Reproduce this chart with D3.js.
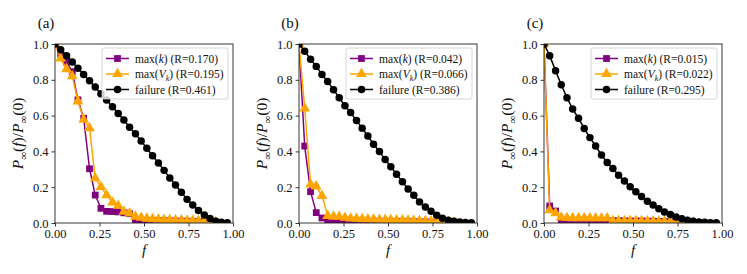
<!DOCTYPE html>
<html>
<head>
<meta charset="utf-8">
<script src="https://cdn.jsdelivr.net/npm/d3@7"></script>
<style>
    body { margin: 0; background: white; }
    svg { display: block; }
    text { font-family: 'Liberation Serif', 'Times New Roman', serif; fill: #111; }
</style>
</head>
<body>
<svg width="747" height="274"></svg>
<script>
// fraction of removed nodes
const fValues = [0.000, 0.032, 0.065, 0.097, 0.129, 0.161, 0.194, 0.226, 0.258, 0.290,
    0.323, 0.355, 0.387, 0.419, 0.452, 0.484, 0.516, 0.548, 0.581, 0.613,
    0.645, 0.677, 0.710, 0.742, 0.774, 0.806, 0.839, 0.871, 0.903, 0.935, 0.968];

const panelLabels = ['(a)', '(b)', '(c)'];
const xTicks = [0, 0.25, 0.5, 0.75, 1];
const yTicks = [0, 0.2, 0.4, 0.6, 0.8, 1];

// R values shown in legend: [max(k), max(V_k), failure]
const rValues = [
    ['0.170', '0.195', '0.461'],
    ['0.042', '0.066', '0.386'],
    ['0.015', '0.022', '0.295']
];

const maxKA = [1.000, 0.945, 0.898, 0.845, 0.688, 0.585, 0.303, 0.156, 0.082, 0.065,
    0.064, 0.062, 0.057, 0.052, 0.016, 0.015, 0.014, 0.013, 0.013, 0.012,
    0.012, 0.011, 0.010, 0.010, 0.009, 0.008, 0.007, 0.006, 0.004];
const maxVA = [1.000, 0.920, 0.860, 0.820, 0.680, 0.578, 0.530, 0.250, 0.202, 0.155,
    0.115, 0.097, 0.063, 0.054, 0.036, 0.030, 0.025, 0.022, 0.020, 0.018,
    0.017, 0.016, 0.015, 0.014, 0.013, 0.012, 0.011, 0.009, 0.006];
const failA = [1.000, 0.968, 0.935, 0.900, 0.865, 0.830, 0.795, 0.760, 0.722, 0.687,
    0.650, 0.612, 0.575, 0.535, 0.498, 0.458, 0.418, 0.376, 0.335, 0.294,
    0.252, 0.212, 0.172, 0.132, 0.100, 0.070, 0.045, 0.025, 0.010, 0.004, 0.001];

const maxKB = [1.000, 0.430, 0.175, 0.058, 0.028, 0.016, 0.013, 0.012, 0.012, 0.011,
    0.011, 0.010, 0.010, 0.010, 0.009, 0.009, 0.009, 0.008, 0.008, 0.007,
    0.007, 0.006, 0.006, 0.005, 0.004, 0.004, 0.003, 0.002];
const maxVB = [1.000, 0.640, 0.215, 0.205, 0.152, 0.040, 0.036, 0.035, 0.030, 0.026,
    0.024, 0.022, 0.021, 0.020, 0.019, 0.018, 0.017, 0.016, 0.015, 0.014,
    0.013, 0.012, 0.011, 0.010, 0.009, 0.007, 0.005, 0.003];
const failB = [1.000, 0.960, 0.915, 0.875, 0.830, 0.790, 0.745, 0.700, 0.655, 0.617,
    0.572, 0.530, 0.486, 0.440, 0.400, 0.355, 0.314, 0.273, 0.230, 0.190,
    0.155, 0.118, 0.090, 0.065, 0.043, 0.026, 0.016, 0.010, 0.006, 0.003, 0.001];

const maxKC = [1.000, 0.095, 0.067, 0.015, 0.015, 0.014, 0.014, 0.014, 0.014, 0.013,
    0.013, 0.013, 0.012, 0.012, 0.012, 0.011, 0.011, 0.011, 0.010, 0.010,
    0.009, 0.008, 0.007, 0.006, 0.005, 0.004, 0.003];
const maxVC = [1.000, 0.072, 0.055, 0.031, 0.028, 0.027, 0.027, 0.027, 0.027, 0.027,
    0.027, 0.027, 0.012, 0.012, 0.012, 0.011, 0.011, 0.011, 0.010, 0.010,
    0.009, 0.008, 0.007, 0.006, 0.005, 0.004, 0.003];
const failC = [1.000, 0.935, 0.850, 0.772, 0.700, 0.637, 0.585, 0.528, 0.477, 0.430,
    0.380, 0.338, 0.305, 0.267, 0.234, 0.202, 0.174, 0.148, 0.121, 0.100,
    0.080, 0.062, 0.047, 0.034, 0.024, 0.016, 0.010, 0.006, 0.004, 0.002, 0.001];

const panelSeries = [
    [maxKA, maxVA, failA],
    [maxKB, maxVB, failB],
    [maxKC, maxVC, failC]
];

const seriesStyle = [
    { color: 'purple', marker: d3.symbolSquare, size: 46 },
    { color: 'orange', marker: d3.symbolTriangle, size: 50 },
    { color: 'black', marker: d3.symbolCircle, size: 44 }
];

const panelLeft = [55, 299, 544];
const plotTop = 44;
const plotWidth = 178;
const plotHeight = 179;

const svg = d3.select('svg');

const fmtX = d3.format('.2f');
const fmtY = d3.format('.1f');

panelSeries.forEach((series, p) => {
    const left = panelLeft[p];

    const x = d3.scaleLinear().domain([0, 1]).range([0, plotWidth]);
    const y = d3.scaleLinear().domain([0, 1]).range([plotHeight, 0]);

    const g = svg.append('g')
        .attr('transform', `translate(${left},${plotTop})`);

    g.append('clipPath')
        .attr('id', `clip-${p}`)
        .append('rect')
        .attr('width', plotWidth)
        .attr('height', plotHeight);

    const plot = g.append('g')
        .attr('clip-path', `url(#clip-${p})`);

    const line = d3.line()
        .x((v, i) => x(fValues[i]))
        .y(v => y(v));

    series.forEach((values, s) => {
        const style = seriesStyle[s];
        plot.append('path')
            .datum(values)
            .attr('d', line)
            .style('fill', 'none')
            .style('stroke', style.color)
            .style('stroke-width', 1.5)
            .style('stroke-linejoin', 'round');

        plot.append('g')
            .selectAll('path')
            .data(values)
            .enter()
            .append('path')
            .attr('transform', (v, i) => `translate(${x(fValues[i])},${y(v)})`)
            .attr('d', d3.symbol().type(style.marker).size(style.size))
            .style('fill', style.color);
    });

    // axes
    const xAxis = g.append('g')
        .attr('transform', `translate(0,${plotHeight})`)
        .call(d3.axisBottom(x).tickValues(xTicks).tickFormat(fmtX).tickSize(3.5).tickPadding(3));
    const yAxis = g.append('g')
        .call(d3.axisLeft(y).tickValues(yTicks).tickFormat(fmtY).tickSize(3.5).tickPadding(3));

    [xAxis, yAxis].forEach(axis => {
        axis.select('.domain').remove();
        axis.selectAll('line').style('stroke', '#222').style('stroke-width', 0.9);
        axis.selectAll('text')
            .style('font-family', "'Liberation Serif', serif")
            .style('font-size', '12.5px')
            .style('fill', '#111');
    });

    g.append('rect')
        .attr('width', plotWidth)
        .attr('height', plotHeight)
        .style('fill', 'none')
        .style('stroke', '#222')
        .style('stroke-width', 0.9);

    // axis labels
    g.append('text')
        .attr('x', plotWidth / 2)
        .attr('y', 211)
        .attr('text-anchor', 'middle')
        .style('font-size', '15px')
        .style('font-style', 'italic')
        .text('f');

    const ylab = g.append('text')
        .attr('transform', `translate(-32,${plotHeight / 2}) rotate(-90)`)
        .attr('text-anchor', 'middle')
        .style('font-size', '15.5px');
    ylab.append('tspan').style('font-style', 'italic').text('P');
    ylab.append('tspan').attr('dy', 3.5).style('font-size', '11px').text('∞');
    ylab.append('tspan').attr('dy', -3.5).text('(');
    ylab.append('tspan').style('font-style', 'italic').text('f');
    ylab.append('tspan').text(')/');
    ylab.append('tspan').style('font-style', 'italic').text('P');
    ylab.append('tspan').attr('dy', 3.5).style('font-size', '11px').text('∞');
    ylab.append('tspan').attr('dy', -3.5).text('(0)');

    // panel label
    g.append('text')
        .attr('x', -9)
        .attr('y', -16)
        .attr('text-anchor', 'middle')
        .style('font-size', '15px')
        .text(panelLabels[p]);

    // legend
    const legend = g.append('g')
        .attr('transform', `translate(${plotWidth - 131},4)`);

    legend.append('rect')
        .attr('width', 126)
        .attr('height', 51)
        .attr('rx', 2)
        .style('fill', 'white')
        .style('fill-opacity', 0.8)
        .style('stroke', '#ccc')
        .style('stroke-width', 0.8);

    seriesStyle.forEach((style, s) => {
        const row = legend.append('g')
            .attr('transform', `translate(0,${10.5 + s * 15.5})`);
        row.append('line')
            .attr('x1', 4)
            .attr('x2', 27)
            .style('stroke', style.color)
            .style('stroke-width', 1.5);
        row.append('path')
            .attr('transform', 'translate(15.5,0)')
            .attr('d', d3.symbol().type(style.marker).size(style.size))
            .style('fill', style.color);

        const label = row.append('text')
            .attr('x', 33)
            .attr('dy', '0.35em')
            .style('font-size', '11.5px');
        const r = rValues[p][s];
        if (s === 0) {
            label.append('tspan').text('max(');
            label.append('tspan').style('font-style', 'italic').text('k');
            label.append('tspan').text(`) (R=${r})`);
        } else if (s === 1) {
            label.append('tspan').text('max(');
            label.append('tspan').style('font-style', 'italic').text('V');
            label.append('tspan').attr('dy', 2.5).style('font-style', 'italic').style('font-size', '8px').text('k');
            label.append('tspan').attr('dy', -2.5).text(`) (R=${r})`);
        } else {
            label.text(`failure (R=${r})`);
        }
    });
});
</script>
</body>
</html>
